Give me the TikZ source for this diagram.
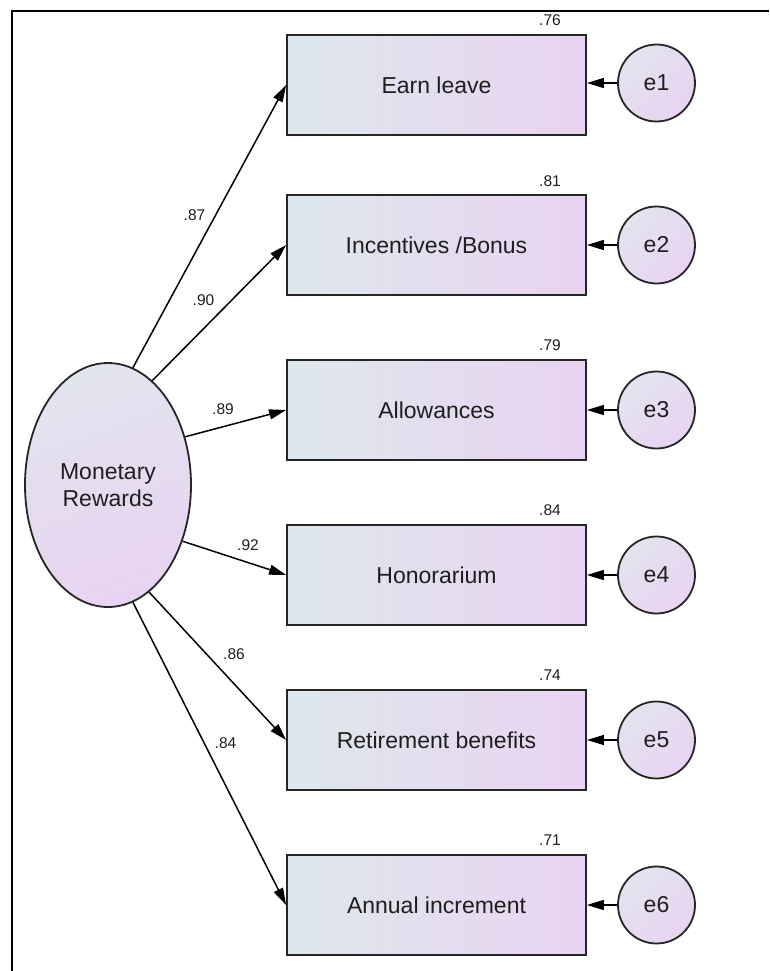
\documentclass[tikz,border=0pt]{standalone}
\usepackage{fontspec}
\setmainfont{Liberation Sans}
\usetikzlibrary{shapes.geometric,arrows.meta}

\definecolor{shadeA}{HTML}{DEE8EC}
\definecolor{shadeB}{HTML}{E9D3F2}
\definecolor{shadeC}{HTML}{E2E4EE}
\definecolor{edgegray}{HTML}{262626}
\definecolor{inkgray}{HTML}{1E1E1E}

\tikzset{
  indicator/.style={draw=edgegray, line width=1.8pt, rectangle,
    minimum width=299pt, minimum height=100pt, inner sep=0pt,
    left color=shadeA, right color=shadeB,
    font=\fontsize{23}{27}\selectfont, text=inkgray},
  errterm/.style={draw=edgegray, line width=1.8pt, circle,
    minimum size=77pt, inner sep=0pt,
    shading=axis, top color=shadeC, bottom color=shadeB, shading angle=45,
    font=\fontsize{23}{27}\selectfont, text=inkgray},
  latent/.style={draw=edgegray, line width=1.8pt, ellipse,
    minimum width=166pt, minimum height=244pt, inner sep=0pt,
    shading=axis, top color=shadeC, bottom color=shadeB, shading angle=20,
    font=\fontsize{23}{27}\selectfont, text=inkgray, align=center},
  coef/.style={font=\fontsize{15.5}{18}\selectfont, text=inkgray, inner sep=0pt},
  path/.style={line width=1.5pt, draw=black,
    -{Triangle[length=17pt, width=10pt]}},
}

\begin{document}
\begin{tikzpicture}[x=1pt, y=-1pt]
  \useasboundingbox (0,0) rectangle (769,971);

  % frame (top and left rules only)
  \draw[line width=2.6pt] (769,11) -- (12,11) -- (12,971);

  % latent factor
  \node[latent] (mr) at (108,485) {Monetary\\Rewards};

  % observed indicators
  \node[indicator] (b1) at (436.5,85)  {Earn leave};
  \node[indicator] (b2) at (436.5,245) {Incentives /Bonus};
  \node[indicator] (b3) at (436.5,410) {Allowances};
  \node[indicator] (b4) at (436.5,575) {Honorarium};
  \node[indicator] (b5) at (436.5,740) {Retirement benefits};
  \node[indicator] (b6) at (436.5,905) {Annual increment};

  % error terms
  \node[errterm] (e1) at (656.5,83)  {e1};
  \node[errterm] (e2) at (656.5,245) {e2};
  \node[errterm] (e3) at (656.5,410) {e3};
  \node[errterm] (e4) at (656.5,575) {e4};
  \node[errterm] (e5) at (656.5,740) {e5};
  \node[errterm] (e6) at (656.5,905) {e6};

  % squared multiple correlations
  \node[coef] (r1) at (550,20.5)  {.76};
  \node[coef] (r2) at (550,181)   {.81};
  \node[coef] (r3) at (550,345.5) {.79};
  \node[coef] (r4) at (550,510.5) {.84};
  \node[coef] (r5) at (550,675.5) {.74};
  \node[coef] (r6) at (550,840.5) {.71};

  % factor loadings
  \draw[path] (mr.78)  -- (b1.west);
  \draw[path] (mr.67)  -- (b2.west);
  \draw[path] (mr.32)  -- (b3.west);
  \draw[path] (mr.-37) -- (b4.west);
  \draw[path] (mr.-69) -- (b5.west);
  \draw[path] (mr.-78) -- (b6.west);

  \node[coef] (l1) at (194.5,215.5) {.87};
  \node[coef] (l2) at (203.5,300)   {.90};
  \node[coef] (l3) at (223,409)     {.89};
  \node[coef] (l4) at (248,545.5)   {.92};
  \node[coef] (l5) at (234,654)     {.86};
  \node[coef] (l6) at (225.5,743)   {.84};

  % error paths
  \draw[path] (e1) -- (b1.east |- e1);
  \draw[path] (e2) -- (b2.east);
  \draw[path] (e3) -- (b3.east);
  \draw[path] (e4) -- (b4.east);
  \draw[path] (e5) -- (b5.east);
  \draw[path] (e6) -- (b6.east);
\end{tikzpicture}
\end{document}
